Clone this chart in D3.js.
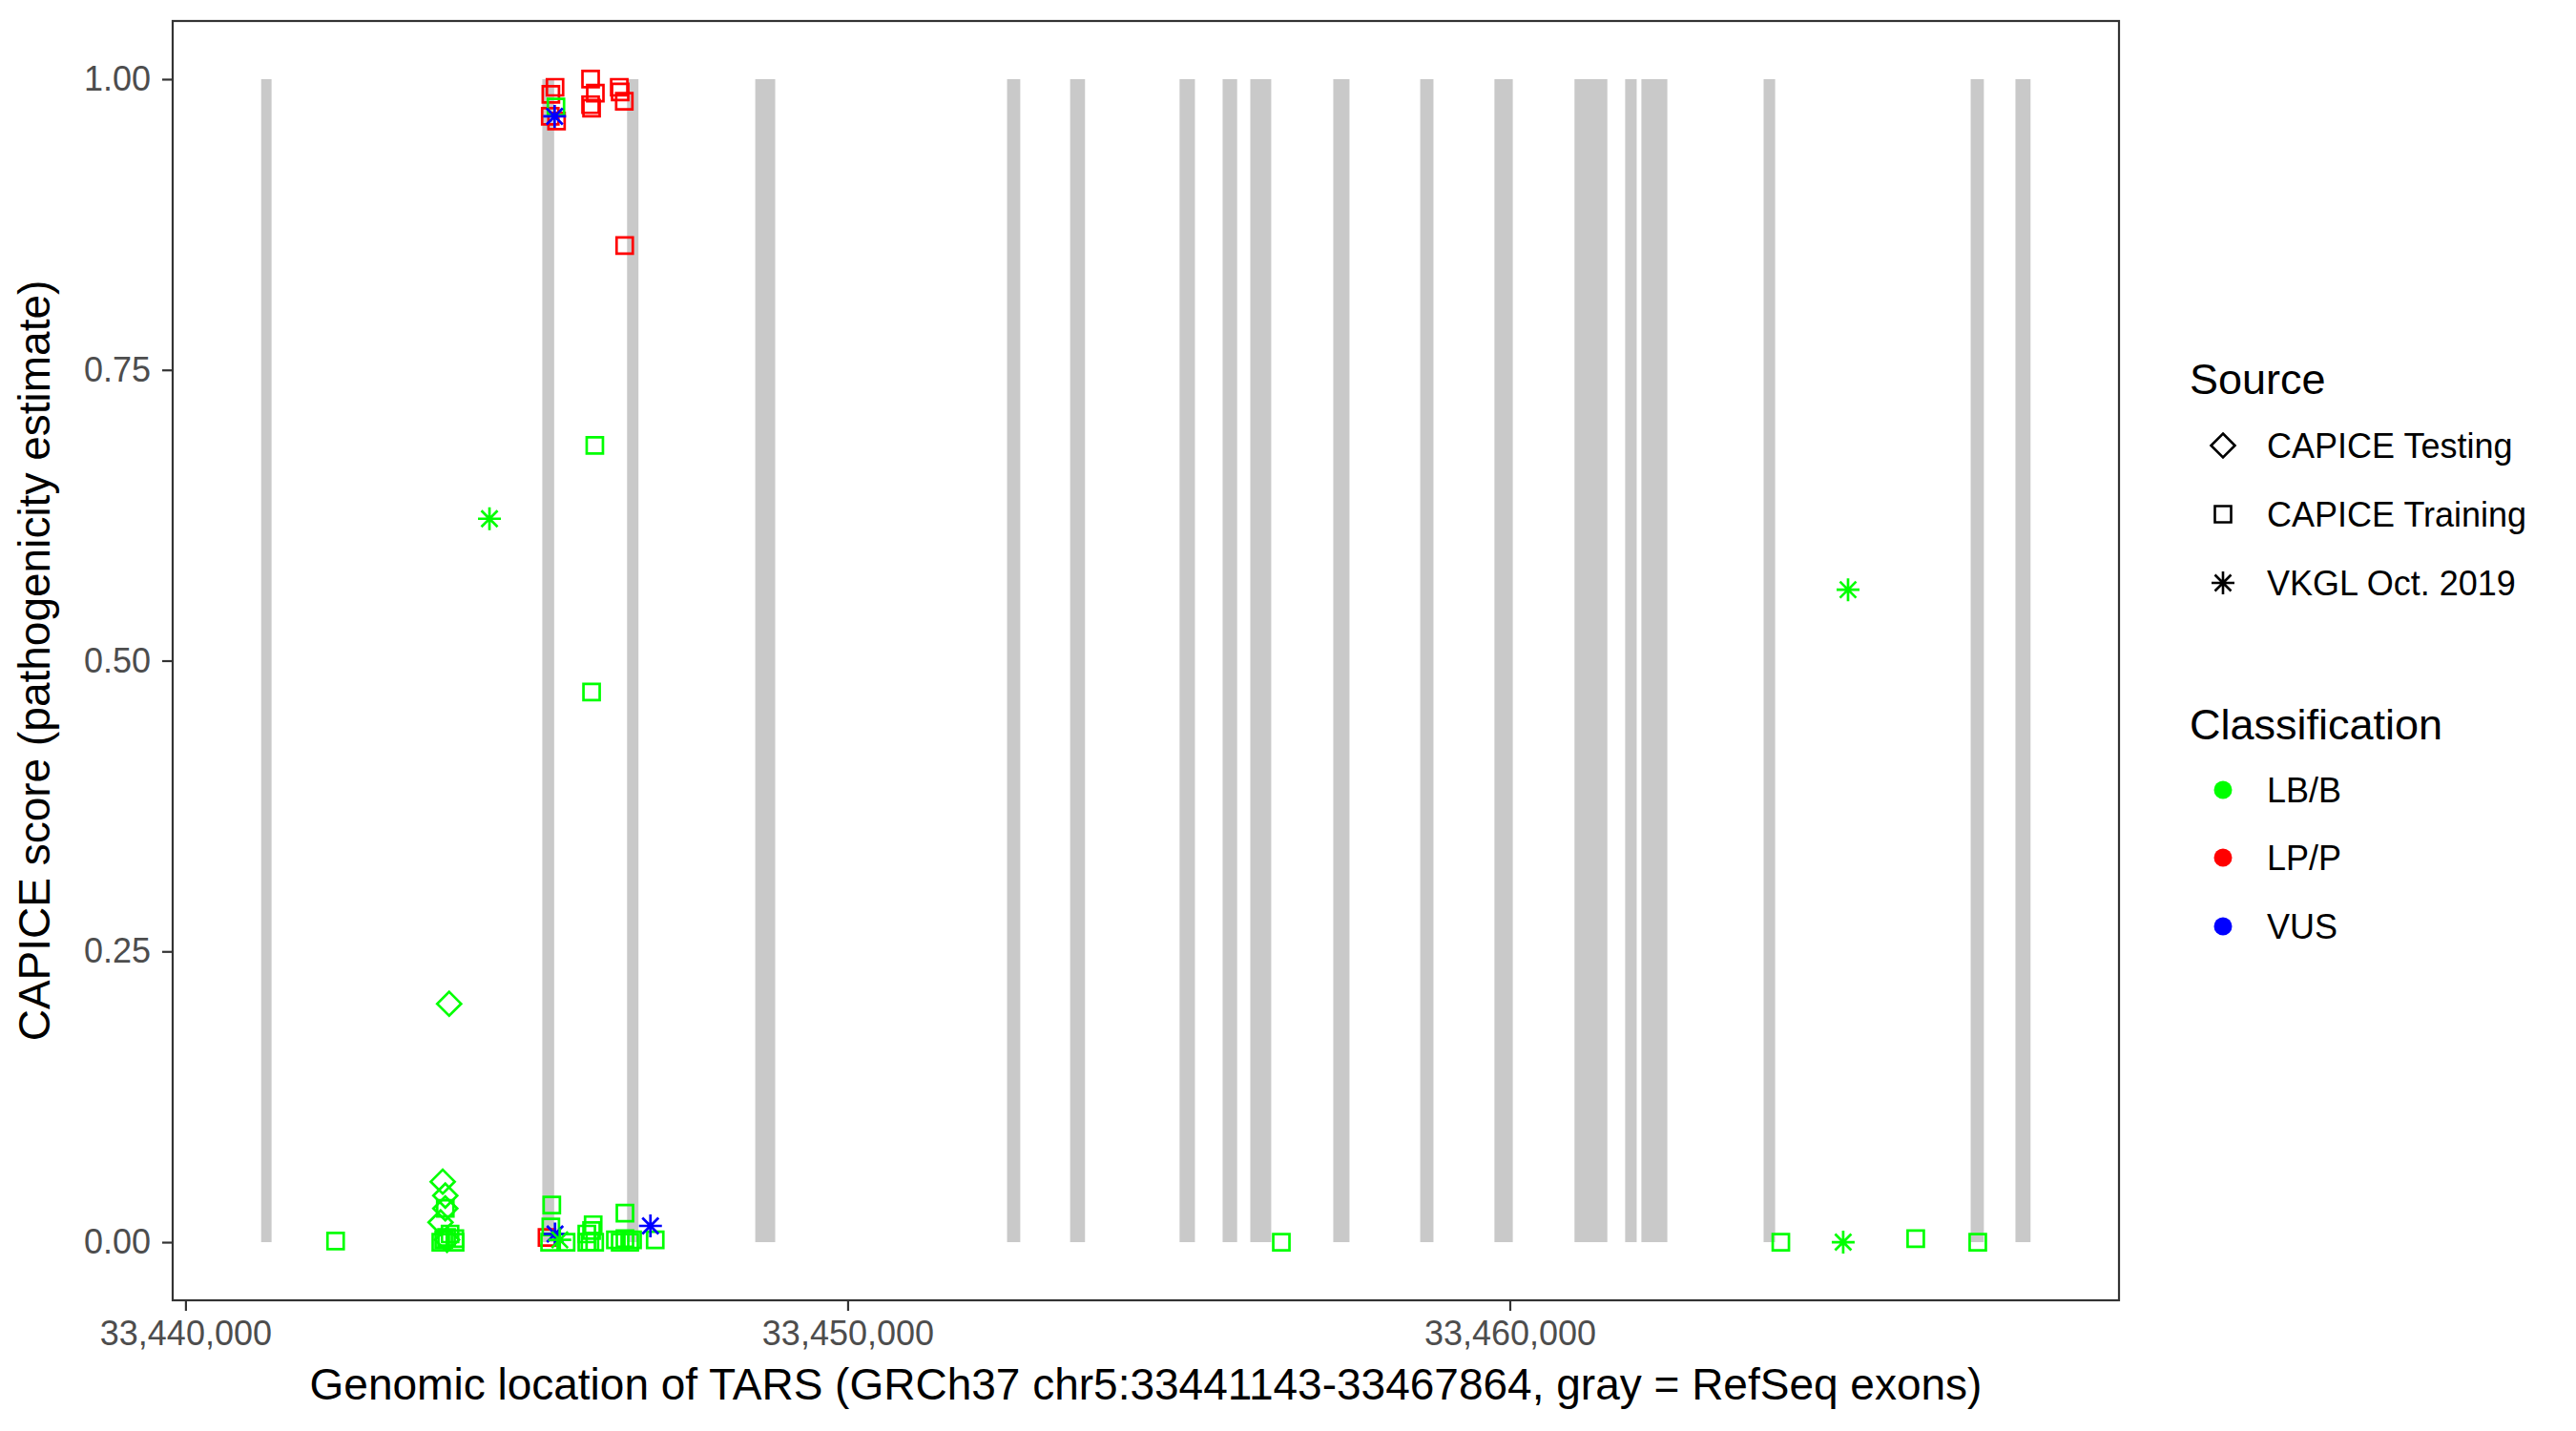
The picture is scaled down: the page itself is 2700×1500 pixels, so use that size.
<!DOCTYPE html>
<html><head><meta charset="utf-8">
<script src="https://cdn.jsdelivr.net/npm/d3@7"></script>
<style>
body{margin:0;background:#fff}
svg{display:block}
text{font-family:"Liberation Sans",Arial,Helvetica,sans-serif}
</style>
</head><body>
<svg id="chart" width="2700" height="1500"></svg>
<script>
// ---------------- data ----------------
const geneStart = 33441143, geneEnd = 33467864;
const exonStart = [33441143,33445389,33446669,33448605,33452408,33453360,33455013,33455663,33456081,33457334,33458647,33459768,33460977,33461742,33461987,33463833,33466960,33467636];
const exonEnd   = [33441300,33445568,33446841,33448906,33452607,33453585,33455245,33455882,33456397,33457579,33458847,33460045,33461473,33461916,33462379,33464007,33467159,33467864];

// [position, CAPICE score]
const trainingLPP = [[33445460,0.004],[33445581,0.993],[33445518,0.987],[33446118,1.000],[33446190,0.988],[33446118,0.978],[33446133,0.975],[33446551,0.993],[33446565,0.989],[33446627,0.981],[33445509,0.968],[33445604,0.964],[33446633,0.857]];
const trainingLBB = [[33445595,0.976],[33446182,0.685],[33446133,0.473],[33442267,0.001],[33443900,0.002],[33443996,0.007],[33444068,0.003],[33444072,0.0],[33443856,0.0],[33443943,0.004],[33443924,0.029],[33445532,0.032],[33445518,0.013],[33445499,0.0],[33445748,0.0],[33446061,0.007],[33446061,0.0],[33446157,0.015],[33446133,0.010],[33446108,0.0],[33446180,0.0],[33446637,0.025],[33446493,0.002],[33446565,0.0],[33446637,0.003],[33446709,0.0],[33446752,0.002],[33447094,0.002],[33456550,0.0],[33464093,0.0],[33466130,0.003],[33467067,0.0]];
const testingLBB = [[33443885,0.052],[33443924,0.040],[33443924,0.029],[33443852,0.017],[33443982,0.205],[33443950,0.002]];
const vkglLBB = [[33444591,0.622],[33465108,0.561],[33465035,0.0],[33445653,0.002]];
const vkglVUS = [[33445575,0.968],[33445581,0.007],[33447022,0.014]];

const xTicks = [33440000, 33450000, 33460000];
const yTicks = [0, 0.25, 0.5, 0.75, 1.0];
const sourceLabels = ["CAPICE Testing","CAPICE Training","VKGL Oct. 2019"];
const classLabels = ["LB/B","LP/P","VUS"];
const classColors = ["#00FF00","#FF0000","#0000FF"];

// ---------------- layout ----------------
const P = {left:181, right:2221, top:22, bottom:1363};
const span = geneEnd - geneStart;
const x = d3.scaleLinear().domain([geneStart-0.05*span, geneEnd+0.05*span]).range([P.left,P.right]);
const y = d3.scaleLinear().domain([-0.05,1.05]).range([P.bottom,P.top]);
const colorOf = d3.scaleOrdinal().domain(classLabels).range(classColors);

const svg = d3.select("#chart");
svg.append("rect").attr("width",2700).attr("height",1500).attr("fill","#fff");

// exons
svg.append("g").selectAll("rect").data(d3.zip(exonStart,exonEnd)).join("rect")
  .attr("x",d=>x(d[0])).attr("width",d=>Math.max(1,x(d[1])-x(d[0])))
  .attr("y",y(1)).attr("height",y(0)-y(1)).attr("fill","#C9C9C9");

// shapes
const sq = s=>`M${-s},${-s}H${s}V${s}H${-s}Z`;
const dia = s=>`M0,${-s}L${s},0L0,${s}L${-s},0Z`;
const ast = s=>{const d=s*0.7071;return `M${-s},0H${s}M0,${-s}V${s}M${-d},${-d}L${d},${d}M${-d},${d}L${d},${-d}`;};
const shapePath = {"CAPICE Testing":dia(12.5),"CAPICE Training":sq(8.5),"VKGL Oct. 2019":ast(12)};

const pts = [];
trainingLPP.forEach(d=>pts.push({pos:d[0],score:d[1],src:"CAPICE Training",cls:"LP/P"}));
trainingLBB.forEach(d=>pts.push({pos:d[0],score:d[1],src:"CAPICE Training",cls:"LB/B"}));
testingLBB.forEach(d=>pts.push({pos:d[0],score:d[1],src:"CAPICE Testing",cls:"LB/B"}));
vkglVUS.forEach(d=>pts.push({pos:d[0],score:d[1],src:"VKGL Oct. 2019",cls:"VUS"}));
vkglLBB.forEach(d=>pts.push({pos:d[0],score:d[1],src:"VKGL Oct. 2019",cls:"LB/B"}));

svg.append("g").selectAll("path").data(pts).join("path")
  .attr("transform",d=>`translate(${x(d.pos)},${y(d.score)})`)
  .attr("d",d=>shapePath[d.src]).attr("fill","none")
  .attr("stroke",d=>colorOf(d.cls)).attr("stroke-width",2.7);

// panel border
svg.append("rect").attr("x",P.left).attr("y",P.top).attr("width",P.right-P.left).attr("height",P.bottom-P.top)
  .attr("fill","none").attr("stroke","#333333").attr("stroke-width",2.2);

// axes
const xAxis = svg.append("g").attr("transform",`translate(0,${P.bottom})`)
  .call(d3.axisBottom(x).tickValues(xTicks).tickFormat(d3.format(",")).tickSize(11).tickPadding(10));
const yAxis = svg.append("g").attr("transform",`translate(${P.left},0)`)
  .call(d3.axisLeft(y).tickValues(yTicks).tickFormat(d3.format(".2f")).tickSize(11).tickPadding(12));
[xAxis,yAxis].forEach(a=>{
  a.select(".domain").remove();
  a.selectAll(".tick line").attr("stroke","#333333").attr("stroke-width",2.2);
  a.selectAll(".tick text").attr("fill","#4D4D4D").attr("font-size",36)
    .attr("font-family",'"Liberation Sans",Arial,sans-serif');
});
xAxis.selectAll(".tick text").attr("dy","0.71em");

// axis titles
svg.append("text").attr("x",(P.left+P.right)/2).attr("y",1467).attr("text-anchor","middle")
  .attr("font-size",46).attr("fill","#000")
  .text("Genomic location of TARS (GRCh37 chr5:33441143-33467864, gray = RefSeq exons)");
svg.append("text").attr("transform",`translate(52,${(P.top+P.bottom)/2}) rotate(-90)`)
  .attr("text-anchor","middle").attr("font-size",46).attr("fill","#000")
  .text("CAPICE score (pathogenicity estimate)");

// legends
const L = svg.append("g");
L.append("text").attr("x",2295).attr("y",413).attr("font-size",45).text("Source");
const srcY = [467,539,611];
sourceLabels.forEach((s,i)=>{
  L.append("path").attr("transform",`translate(2330,${srcY[i]})`)
    .attr("d",shapePath[s]).attr("fill","none").attr("stroke","#000").attr("stroke-width",2.6);
  L.append("text").attr("x",2376).attr("y",srcY[i]+13).attr("font-size",36).text(s);
});
L.append("text").attr("x",2295).attr("y",775).attr("font-size",45).text("Classification");
const clsY = [828,899,971];
classLabels.forEach((c,i)=>{
  L.append("circle").attr("cx",2330).attr("cy",clsY[i]).attr("r",9.5).attr("fill",colorOf(c));
  L.append("text").attr("x",2376).attr("y",clsY[i]+13).attr("font-size",36).text(c);
});
</script>
</body></html>
